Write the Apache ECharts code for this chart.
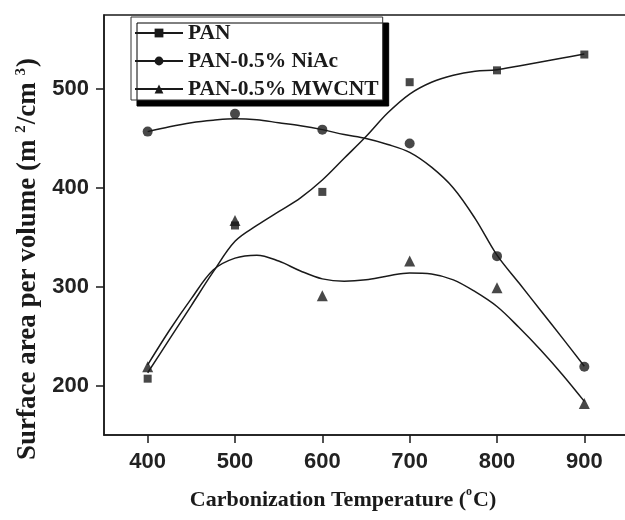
<!DOCTYPE html>
<html>
<head>
<meta charset="utf-8">
<script src="https://cdn.jsdelivr.net/npm/echarts@6/dist/echarts.min.js"></script>
<style>html,body{margin:0;padding:0;background:#fff}#c{width:625px;height:520px}</style>
</head>
<body>
<div id="c"></div>
<script>
// Measured temperatures (°C)
const temps = [400, 500, 600, 700, 800, 900];
// Measured surface area per volume (markers)
const panPts = [207, 362, 396, 507, 519, 535];
const niacPts = [457, 475, 459, 445, 331, 219];
const mwcntPts = [219, 367, 291, 326, 299, 182];
// Fitted curves at 25 °C steps
const curveTemps = [400, 425, 450, 475, 500, 525, 550, 575, 600, 625, 650, 675, 700, 725, 750, 775, 800, 825, 850, 875, 900];
const panCurve = [213, 247, 281, 315, 346, 362, 376, 390, 408, 430, 452, 476, 495, 507, 514, 518, 519.5, 523.5, 527.5, 531.5, 535.5];
const niacCurve = [457, 462, 466, 468.5, 470, 469, 466, 463, 459, 454, 450, 444, 436, 421, 400, 369, 332, 304, 276, 248, 219.5];
const mwcntCurve = [221, 256, 288, 317, 329, 332, 326, 316, 308, 305.5, 307, 311, 314, 313, 307, 295, 280, 259, 236, 211, 184];
// Tick labels
const xTicks = [400, 500, 600, 700, 800, 900];
const yTicks = [200, 300, 400, 500];
const names = ['PAN', 'PAN-0.5% NiAc', 'PAN-0.5% MWCNT'];

const pair = (xs, ys) => xs.map((x, i) => [x, ys[i]]);
const ink = '#1a1a1a';
const serif = "'Liberation Serif','Times New Roman',serif";
const sans = "'Liberation Sans',Arial,sans-serif";

const symbols = ['rect', 'circle', 'triangle'];
const symSizes = [8, 10, 11];
const pts = [panPts, niacPts, mwcntPts];
const curves = [panCurve, niacCurve, mwcntCurve];

const series = [];
names.forEach((n, i) => {
  series.push({
    name: n, type: 'line', smooth: 0.35, symbol: symbols[i], showSymbol: false,
    data: pair(curveTemps, curves[i]),
    lineStyle: {color: ink, width: 1.5}, itemStyle: {color: ink},
    silent: true, z: 2
  });
  series.push({
    name: n + ' data', type: 'scatter', symbol: symbols[i], symbolSize: symSizes[i],
    data: pair(temps, pts[i]), itemStyle: {color: ink}, z: 3
  });
});

const chart = echarts.init(document.getElementById('c'), null, {renderer: 'canvas'});
chart.setOption({
  animation: false,
  backgroundColor: '#fff',
  grid: {left: 104, top: 15, width: 524, height: 420, containLabel: false, outerBoundsMode: 'none',
    show: true, borderColor: ink, borderWidth: 1.5, backgroundColor: 'transparent'},
  legend: {
    data: names, orient: 'vertical', left: 131, top: 17,
    padding: [5, 4, 0, 3], itemGap: 6, itemWidth: 48, itemHeight: 11,
    backgroundColor: '#fff', borderColor: '#333', borderWidth: 1,
    shadowColor: '#000', shadowBlur: 0, shadowOffsetX: 6, shadowOffsetY: 6,
    textStyle: {fontFamily: serif, fontWeight: 'bold', fontSize: 21.5, color: ink},
    selectedMode: false
  },
  xAxis: {
    type: 'value', min: 350, max: 950,
    name: 'Carbonization Temperature ({sup|o}C)', nameLocation: 'middle', nameGap: 51,
    nameTextStyle: {fontFamily: serif, fontWeight: 'bold', fontSize: 22, color: ink, padding: [0, 46, 0, 0],
      rich: {sup: {fontFamily: serif, fontWeight: 'bold', fontSize: 12, verticalAlign: 'top', padding: [0, 1, 16, 0]}}},
    axisLine: {lineStyle: {color: ink, width: 1.5}},
    axisTick: {customValues: xTicks, length: 8, inside: false, lineStyle: {color: ink, width: 1.5}},
    axisLabel: {customValues: xTicks, fontFamily: sans, fontWeight: 'bold', fontSize: 22, color: '#222', margin: 16},
    splitLine: {show: false}
  },
  yAxis: {
    type: 'value', min: 150, max: 575,
    name: 'Surface area per volume (m {sup|2}/cm {sup|3})', nameLocation: 'middle', nameGap: 61, nameRotate: 90,
    nameTextStyle: {fontFamily: serif, fontWeight: 'bold', fontSize: 27, color: ink, padding: [0, 68, 0, 0],
      rich: {sup: {fontFamily: serif, fontWeight: 'bold', fontSize: 15, verticalAlign: 'top', padding: [0, 1, 14, 0]}}},
    axisLine: {lineStyle: {color: ink, width: 1.5}},
    axisTick: {customValues: yTicks, length: 8, lineStyle: {color: ink, width: 1.5}},
    axisLabel: {customValues: yTicks, fontFamily: sans, fontWeight: 'bold', fontSize: 22, color: '#222', margin: 15},
    splitLine: {show: false}
  },
  series: series
});
</script>
</body>
</html>
